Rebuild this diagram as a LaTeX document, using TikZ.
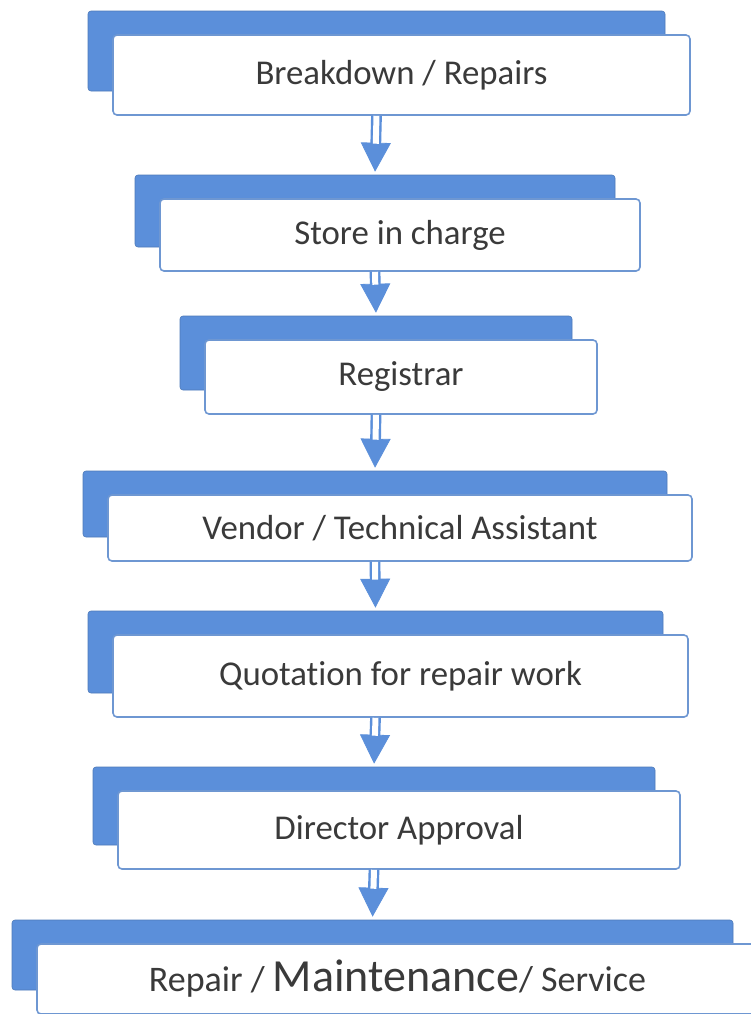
\documentclass[tikz,border=0pt]{standalone}
\usepackage{fontspec}
\setmainfont[RawFeature=-liga]{Carlito}
\usetikzlibrary{arrows.meta,positioning}
\definecolor{stepblue}{HTML}{5B8FDA}
\definecolor{edgeblue}{HTML}{6E97D2}
\definecolor{inkgray}{HTML}{3A3A3A}
\tikzset{
  size/.style 2 args={
    minimum width=#1,
    minimum height=#2
  },
  back/.style={
    rectangle, rounded corners=1.5pt,
    fill=stepblue, draw=stepblue!85!black, line width=0.3pt,
    inner sep=0pt
  },
  front/.style={
    rectangle, rounded corners=2pt,
    fill=white, draw=edgeblue, line width=0.8pt,
    text=inkgray, font=\fontsize{17.4}{20}\selectfont,
    inner sep=0pt
  },
  head/.style={
    draw=stepblue, line width=0.4pt,
    -{Triangle[length=14.5pt,width=15pt]},
    shorten >=1.5pt
  },
  shaft/.style={
    draw=stepblue, line width=1.2pt,
    double=white, double distance=3pt,
    shorten >=15.5pt
  }
}

\begin{document}
\begin{tikzpicture}[x=0.5pt,y=-0.5pt]
\useasboundingbox (0,0) rectangle (751,1014);

% steps: blue card behind, white card on top
\node[back,size={288.5pt}{40pt}] (k1) at (376.5,51) {};
\node[front,size={288.5pt}{40pt}] (b1) at ([shift={(25,24)}]k1.center) {Breakdown / Repairs};

\node[back,size={240pt}{36pt}] (k2) at (375,211) {};
\node[front,size={240pt}{36pt}] (b2) at ([shift={(25,24)}]k2.center) {Store in charge};

\node[back,size={196pt}{37pt}] (k3) at (376,353) {};
\node[front,size={196pt}{37pt}] (b3) at ([shift={(25,24)}]k3.center) {Registrar};

\node[back,size={292pt}{33pt}] (k4) at (375,504) {};
\node[front,size={292pt}{33pt}] (b4) at ([shift={(25,24)}]k4.center) {Vendor / Technical Assistant};

\node[back,size={287.5pt}{41pt}] (k5) at (375.5,652) {};
\node[front,size={287.5pt}{41pt}] (b5) at ([shift={(25,24)}]k5.center) {Quotation for repair work};

\node[back,size={281pt}{39pt}] (k6) at (374,806) {};
\node[front,size={281pt}{39pt}] (b6) at ([shift={(25,24)}]k6.center) {Director Approval};

\node[back,size={360.5pt}{35pt}] (k7) at (372.5,955) {};
\node[front,size={360.5pt}{35pt}] (b7) at ([shift={(25,24)}]k7.center)
  {{\fontsize{18}{21}\selectfont Repair / }{\fontsize{23}{27}\selectfont Maintenance}{\fontsize{18}{21}\selectfont / Service}};

% arrows between the steps
\foreach \a/\b in {1/2,2/3,3/4,4/5,5/6,6/7}{
  \draw[head] (b\a.south -| k\a.center) -- (k\b.north);
  \draw[shaft] (b\a.south -| k\a.center) -- (k\b.north);
}
\end{tikzpicture}
\end{document}
